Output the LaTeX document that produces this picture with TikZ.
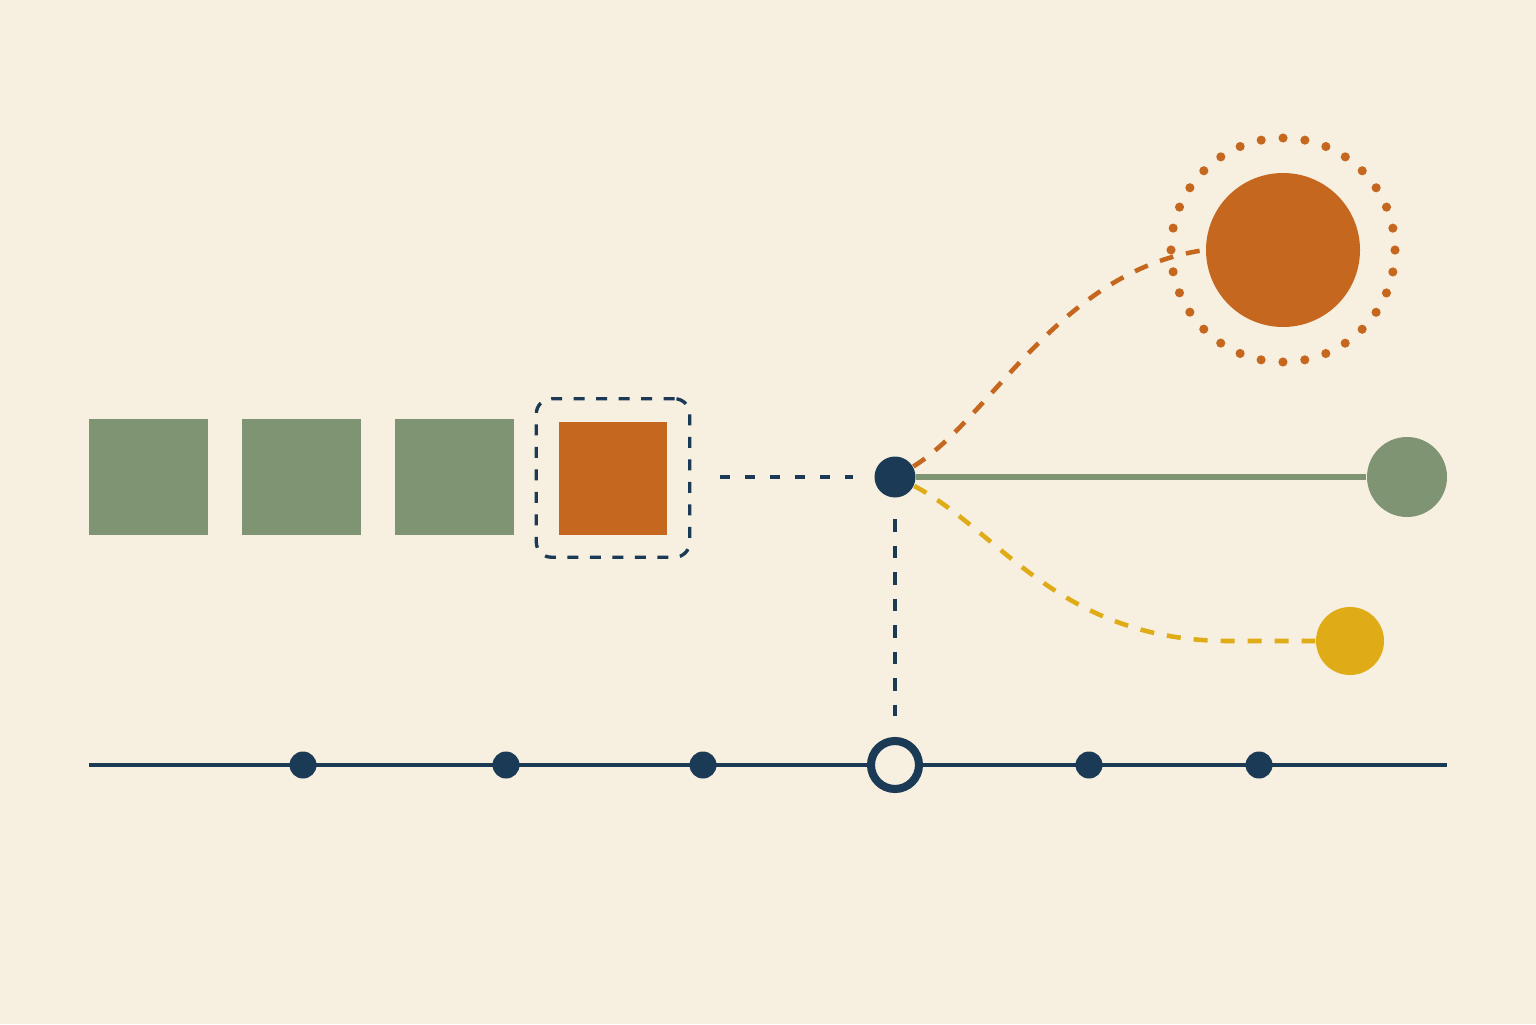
\documentclass[tikz,border=0pt]{standalone}
\usetikzlibrary{fit,positioning}
\definecolor{paper}{HTML}{F7EFE0}
\definecolor{navy}{HTML}{1B3A56}
\definecolor{sage}{HTML}{7F9473}
\definecolor{rust}{HTML}{C5671F}
\definecolor{mustard}{HTML}{DFAC17}
\begin{document}
\begin{tikzpicture}[
		block/.style={fill=sage, minimum width=1.19cm, minimum height=1.16cm, inner sep=0pt},
		pick/.style={fill=rust, minimum width=1.08cm, minimum height=1.13cm, inner sep=0pt},
		frame/.style={draw=navy, line width=0.95pt, dash pattern=on 0.11cm off 0.115cm, rounded corners=0.15cm, inner sep=0.22cm},
		ball/.style={circle, inner sep=0pt},
		hub/.style={ball, fill=navy, minimum size=0.41cm},
		tick/.style={ball, fill=navy, minimum size=0.27cm},
		ring/.style={ball, draw=navy, fill=paper, line width=2.3pt, minimum size=0.48cm},
		halo/.style={ball, draw=rust, line width=2.6pt, line cap=round, dash pattern=on 0pt off 0.2199cm, minimum size=2.24cm},
		link/.style={navy, line width=1.1pt, dash pattern=on 0.1cm off 0.15cm, shorten <=0.21cm, shorten >=0.21cm},
		trail/.style={line width=1.3pt, dash pattern=on 0.14cm off 0.13cm}
	]
	\fill[paper] (0,0) rectangle (15.36,10.24);

	% queue of blocks
	\node[block] (b1) at (1.485,5.47) {};
	\node[block] (b2) at (3.015,5.47) {};
	\node[block] (b3) at (4.545,5.47) {};
	\node[pick] (pick) at (6.13,5.46) {};
	\node[frame, fit=(pick)] (frame) {};

	% timeline
	\coordinate (t0) at (0.89,2.59);
	\coordinate (t1) at (14.47,2.59);
	\draw[navy, line width=1.15pt] (t0) -- (t1);
	\foreach \x/\n in {3.03/d1, 5.06/d2, 7.03/d3, 10.89/d4, 12.59/d5}
		\node[tick] (\n) at (\x,2.59) {};
	\node[ring] (now) at (8.95,2.59) {};

	% branches
	\node[hub] (hub) at (8.95,5.47) {};
	\node[ball, fill=sage, minimum size=0.80cm] (leaf) at (14.07,5.47) {};
	\node[ball, fill=rust, minimum size=1.54cm] (sun) at (12.83,7.74) {};
	\node[halo] (halo) at (sun) {};
	\node[ball, fill=mustard, minimum size=0.68cm] (yolk) at (13.50,3.83) {};
	\coordinate[left=0.86cm of yolk.west] (bend);

	\draw[link, shorten <=0.29cm] (frame.east |- hub) -- (hub);
	\draw[link, dash pattern=on 0.125cm off 0.14cm] (hub) -- (now);
	\draw[sage, line width=1.5pt] (hub) -- (leaf);
	\draw[rust, trail] (hub.30) .. controls +(0.77,0.47) and +(-1.46,-0.2) .. (sun.west);
	\draw[mustard, trail] (hub.-25) .. controls +(0.85,-0.45) and +(-1.7,0) .. (bend) -- (yolk.west);
\end{tikzpicture}
\end{document}
